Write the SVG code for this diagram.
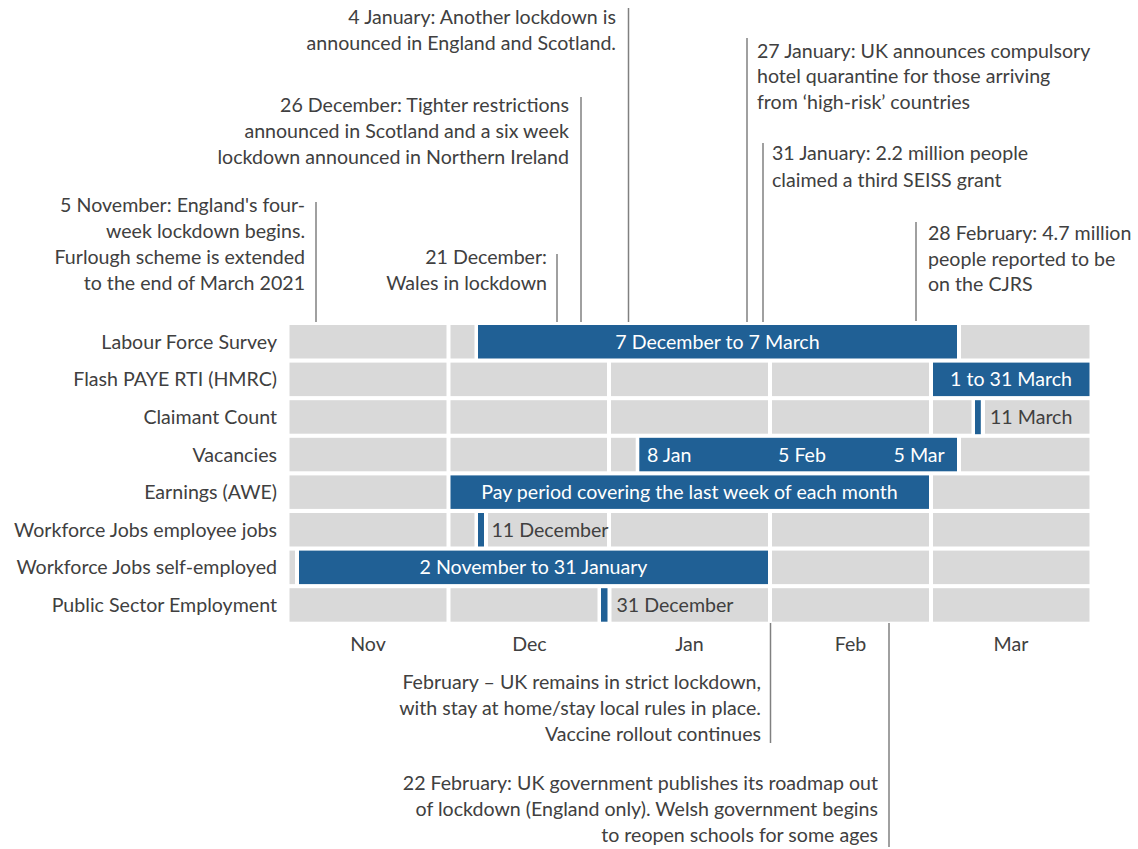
<svg xmlns="http://www.w3.org/2000/svg" width="1138" height="849" viewBox="0 0 1138 849">
<style>
text{font-family:Lato,"Liberation Sans",sans-serif;font-size:19.6px;fill:#404040}
.r{text-anchor:end}
.m{text-anchor:middle}
.w{fill:#ffffff}
.g{fill:#d9d9d9}
.b{fill:#206095}
.ln{stroke:#808080;stroke-width:1.5;fill:none}
</style>
<rect width="1138" height="849" fill="#ffffff"/>
<g id="connectors">
<line class="ln" x1="316" y1="202" x2="316" y2="322"/>
<line class="ln" x1="557" y1="254" x2="557" y2="322"/>
<line class="ln" x1="581" y1="97" x2="581" y2="322"/>
<line class="ln" x1="628.5" y1="8" x2="628.5" y2="322"/>
<line class="ln" x1="747" y1="38" x2="747" y2="322"/>
<line class="ln" x1="763" y1="143" x2="763" y2="322"/>
<line class="ln" x1="916" y1="222" x2="916" y2="321"/>
<line class="ln" x1="770.5" y1="623" x2="770.5" y2="743"/>
<line class="ln" x1="889" y1="623" x2="889" y2="847"/>
</g>
<g id="annotations">
<g id="ann-5nov"><text class="r" x="305" y="212">5 November: England's four-</text><text class="r" x="305" y="238">week lockdown begins.</text><text class="r" x="305" y="264">Furlough scheme is extended</text><text class="r" x="305" y="290">to the end of March 2021</text></g>
<g id="ann-21dec"><text class="r" x="547" y="264">21 December:</text><text class="r" x="547" y="290">Wales in lockdown</text></g>
<g id="ann-26dec"><text class="r" x="569" y="112">26 December: Tighter restrictions</text><text class="r" x="569" y="138">announced in Scotland and a six week</text><text class="r" x="569" y="164">lockdown announced in Northern Ireland</text></g>
<g id="ann-4jan"><text class="r" x="616" y="24">4 January: Another lockdown is</text><text class="r" x="616" y="49.5">announced in England and Scotland.</text></g>
<g id="ann-27jan"><text x="757" y="57.5">27 January: UK announces compulsory</text><text x="757" y="83">hotel quarantine for those arriving</text><text x="757" y="108.5">from ‘high-risk’ countries</text></g>
<g id="ann-31jan"><text x="772" y="160">31 January: 2.2 million people</text><text x="772" y="186.5">claimed a third SEISS grant</text></g>
<g id="ann-28feb"><text x="928" y="240">28 February: 4.7 million</text><text x="928" y="265.5">people reported to be</text><text x="928" y="291">on the CJRS</text></g>
<g id="ann-feb"><text class="r" x="761" y="688.5">February – UK remains in strict lockdown,</text><text class="r" x="761" y="714.5">with stay at home/stay local rules in place.</text><text class="r" x="761" y="740.5">Vaccine rollout continues</text></g>
<g id="ann-22feb"><text class="r" x="878" y="790">22 February: UK government publishes its roadmap out</text><text class="r" x="878" y="816">of lockdown (England only). Welsh government begins</text><text class="r" x="878" y="841.5">to reopen schools for some ages</text></g>
</g>
<g id="row-lfs">
<text class="r" x="277" y="348.8">Labour Force Survey</text>
<rect class="g" x="289.5" y="325" width="157" height="33.5"/>
<rect class="g" x="450.5" y="325" width="24" height="33.5"/>
<rect class="b" x="478" y="325" width="479" height="33.5"/>
<rect class="g" x="961" y="325" width="128.5" height="33.5"/>
<text class="m w" x="717.5" y="348.8">7 December to 7 March</text>
</g>
<g id="row-paye">
<text class="r" x="277" y="386.4">Flash PAYE RTI (HMRC)</text>
<rect class="g" x="289.5" y="362.6" width="157" height="33.5"/>
<rect class="g" x="450.5" y="362.6" width="156.5" height="33.5"/>
<rect class="g" x="611" y="362.6" width="157" height="33.5"/>
<rect class="g" x="772" y="362.6" width="157" height="33.5"/>
<rect class="b" x="933" y="362.6" width="156.5" height="33.5"/>
<text class="m w" x="1011" y="386.4">1 to 31 March</text>
</g>
<g id="row-cc">
<text class="r" x="277" y="424">Claimant Count</text>
<rect class="g" x="289.5" y="400.2" width="157" height="33.5"/>
<rect class="g" x="450.5" y="400.2" width="156.5" height="33.5"/>
<rect class="g" x="611" y="400.2" width="157" height="33.5"/>
<rect class="g" x="772" y="400.2" width="157" height="33.5"/>
<rect class="g" x="933" y="400.2" width="38.5" height="33.5"/>
<rect class="b" x="975" y="400.2" width="5.8" height="34"/>
<rect class="g" x="985" y="400.2" width="104.5" height="33.5"/>
<text x="990" y="424">11 March</text>
</g>
<g id="row-vac">
<text class="r" x="277" y="461.6">Vacancies</text>
<rect class="g" x="289.5" y="437.8" width="157" height="33.5"/>
<rect class="g" x="450.5" y="437.8" width="156.5" height="33.5"/>
<rect class="g" x="611" y="437.8" width="24.7" height="33.5"/>
<rect class="b" x="639.3" y="437.8" width="317.7" height="33.5"/>
<rect class="g" x="961" y="437.8" width="128.5" height="33.5"/>
<text class="w" x="647" y="461.6">8 Jan</text>
<text class="w" x="778" y="461.6">5 Feb</text>
<text class="w" x="893.5" y="461.6">5 Mar</text>
</g>
<g id="row-awe">
<text class="r" x="277" y="499.2">Earnings (AWE)</text>
<rect class="g" x="289.5" y="475.4" width="157" height="33.5"/>
<rect class="b" x="450.5" y="475.4" width="478.5" height="33.5"/>
<rect class="g" x="933" y="475.4" width="156.5" height="33.5"/>
<text class="m w" x="689.5" y="499.2">Pay period covering the last week of each month</text>
</g>
<g id="row-wfje">
<text class="r" x="277" y="536.8">Workforce Jobs employee jobs</text>
<rect class="g" x="289.5" y="513" width="157" height="33.5"/>
<rect class="g" x="450.5" y="513" width="24" height="33.5"/>
<rect class="b" x="478" y="513" width="6" height="33.5"/>
<rect class="g" x="488" y="513" width="119" height="33.5"/>
<rect class="g" x="611" y="513" width="157" height="33.5"/>
<rect class="g" x="772" y="513" width="157" height="33.5"/>
<rect class="g" x="933" y="513" width="156.5" height="33.5"/>
<text x="491.5" y="536.8">11 December</text>
</g>
<g id="row-wfjs">
<text class="r" x="277" y="574.4">Workforce Jobs self-employed</text>
<rect class="g" x="289.5" y="550.6" width="5.5" height="33.5"/>
<rect class="b" x="299" y="550.6" width="469" height="33.5"/>
<rect class="g" x="772" y="550.6" width="157" height="33.5"/>
<rect class="g" x="933" y="550.6" width="156.5" height="33.5"/>
<text class="m w" x="533.5" y="574.4">2 November to 31 January</text>
</g>
<g id="row-pse">
<text class="r" x="277" y="612">Public Sector Employment</text>
<rect class="g" x="289.5" y="588.2" width="157" height="33.5"/>
<rect class="g" x="450.5" y="588.2" width="147" height="33.5"/>
<rect class="b" x="601" y="588.2" width="6.5" height="33.5"/>
<rect class="g" x="611.5" y="588.2" width="156.5" height="33.5"/>
<rect class="g" x="772" y="588.2" width="157" height="33.5"/>
<rect class="g" x="933" y="588.2" width="156.5" height="33.5"/>
<text x="616.5" y="612">31 December</text>
</g>
<g id="axis">
<text class="m" x="368" y="651">Nov</text>
<text class="m" x="529.5" y="651">Dec</text>
<text class="m" x="689.5" y="651">Jan</text>
<text class="m" x="850.5" y="651">Feb</text>
<text class="m" x="1011" y="651">Mar</text>
</g>
</svg>
